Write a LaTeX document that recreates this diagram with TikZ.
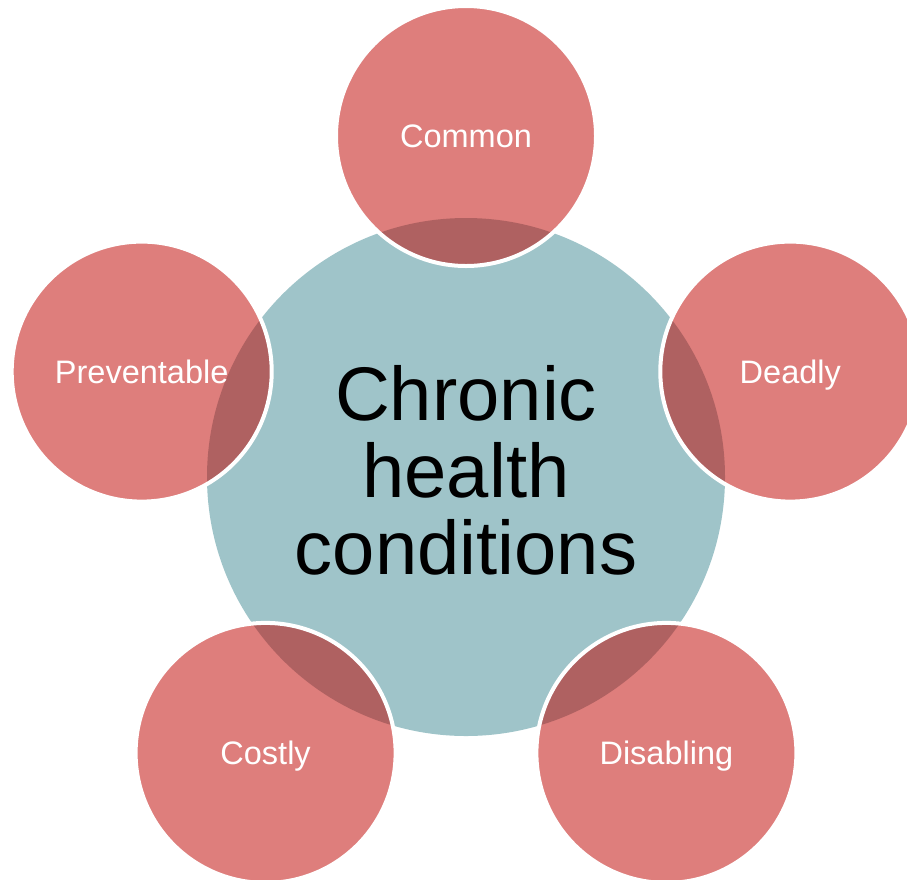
\documentclass[tikz,border=0pt]{standalone}
\usepackage{fontspec}
\setmainfont{Liberation Sans}
\definecolor{hub}{RGB}{159,196,201}
\definecolor{spoke}{RGB}{191,7,3}
\begin{document}
\begin{tikzpicture}[x=1pt,y=-1pt,
  hubdisc/.style={circle, inner sep=0pt, minimum size=518pt, fill=hub},
  spokedisc/.style={circle, inner sep=0pt, minimum size=260pt, fill=spoke,
    fill opacity=0.52, draw=white, draw opacity=1, line width=4pt},
  spokelabel/.style={anchor=base, inner sep=0pt, text=white,
    font=\fontsize{32.5}{36}\selectfont, yshift=-11.5pt},
  hublabel/.style={align=center, inner sep=0pt,
    font=\fontsize{76}{77}\selectfont}]
\useasboundingbox (0,0) rectangle (907,879);
% central disc
\node[hubdisc] (hub) at (466,477) {};
% five surrounding discs on a pentagon of radius 341
\node[spokedisc] (common)      at (466,136)       {};
\node[spokedisc] (deadly)      at (790.3,371.6)   {};
\node[spokedisc] (disabling)   at (666.4,752.9)   {};
\node[spokedisc] (costly)      at (265.6,752.9)   {};
\node[spokedisc] (preventable) at (141.7,371.6)   {};
% labels
\node[hublabel, yshift=6.5pt] (title) at (hub.center) {Chronic\\health\\conditions};
\node[spokelabel] (common-text)      at (common.center)      {Common};
\node[spokelabel] (deadly-text)      at (deadly.center)      {Deadly};
\node[spokelabel] (disabling-text)   at (disabling.center)   {Disabling};
\node[spokelabel] (costly-text)      at (costly.center)      {Costly};
\node[spokelabel] (preventable-text) at (preventable.center) {Preventable};
\end{tikzpicture}
\end{document}
